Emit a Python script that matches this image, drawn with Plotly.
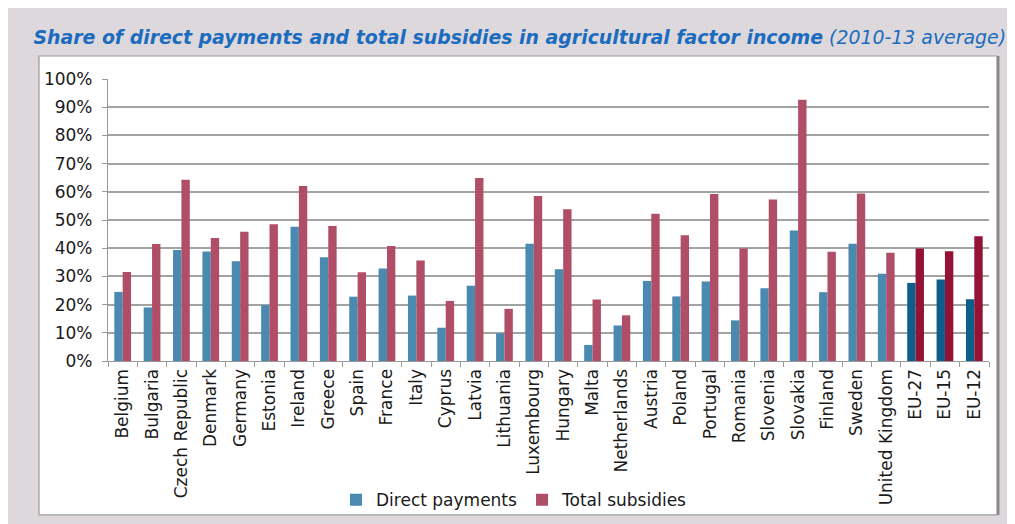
import plotly.graph_objects as go

countries = ["Belgium", "Bulgaria", "Czech Republic", "Denmark", "Germany", "Estonia",
             "Ireland", "Greece", "Spain", "France", "Italy", "Cyprus", "Latvia",
             "Lithuania", "Luxembourg", "Hungary", "Malta", "Netherlands", "Austria",
             "Poland", "Portugal", "Romania", "Slovenia", "Slovakia", "Finland",
             "Sweden", "United Kingdom", "EU-27", "EU-15", "EU-12"]

direct_payments = [24.5, 19.0, 39.4, 38.8, 35.4, 19.8, 47.6, 36.8, 22.8, 32.8, 23.2,
                   11.8, 26.7, 9.8, 41.6, 32.5, 5.7, 12.6, 28.4, 22.9, 28.2, 14.4,
                   25.8, 46.3, 24.4, 41.6, 30.9, 27.7, 28.9, 21.9]

total_subsidies = [31.6, 41.5, 64.3, 43.6, 45.8, 48.5, 62.1, 47.9, 31.5, 40.8, 35.6,
                   21.3, 64.9, 18.5, 58.5, 53.8, 21.8, 16.2, 52.2, 44.6, 59.2, 39.9,
                   57.3, 92.6, 38.7, 59.4, 38.4, 39.9, 38.9, 44.2]

y_ticks = [0, 10, 20, 30, 40, 50, 60, 70, 80, 90, 100]
y_tick_labels = ["0%", "10%", "20%", "30%", "40%", "50%", "60%", "70%", "80%", "90%", "100%"]

DP_LIGHT, DP_DARK = "#4a89b0", "#0e5e8c"
TS_LIGHT, TS_DARK = "#b04d67", "#931236"
dp_colors = [DP_DARK if c.startswith("EU-") else DP_LIGHT for c in countries]
ts_colors = [TS_DARK if c.startswith("EU-") else TS_LIGHT for c in countries]

font_family = "DejaVu Sans, Verdana, sans-serif"

fig = go.Figure()
fig.add_trace(go.Bar(x=countries, y=[v / 100 for v in direct_payments], name="Direct payments",
                     marker=dict(color=dp_colors, line=dict(width=0))))
fig.add_trace(go.Bar(x=countries, y=[v / 100 for v in total_subsidies], name="Total subsidies",
                     marker=dict(color=ts_colors, line=dict(width=0))))

# chart frame (white box) drawn behind plot
fig.add_shape(type="rect", xref="paper", yref="paper", x0=-0.0783, x1=1.009, y0=-0.546, y1=1.0816,
              fillcolor="white", line=dict(color="#9a9a9a", width=1.2), layer="below")
fig.add_shape(type="line", xref="paper", yref="paper", x0=1.0105, x1=1.0105, y0=-0.546, y1=1.0816,
              line=dict(color="#8a8a8a", width=2.5), layer="below")

fig.update_layout(
    width=1015, height=524,
    margin=dict(l=100, r=34, t=71, b=171),
    paper_bgcolor="#dcd8dc",
    plot_bgcolor="white",
    barmode="group",
    bargap=0.43,
    bargroupgap=0,
    font=dict(family=font_family, size=17, color="#1a1a1a"),
    title=dict(
        text="<b><i>Share of direct payments and total subsidies in agricultural factor income</i></b>"
             " <i>(2010-13 average)</i>",
        x=0.025, xanchor="left", y=0.944, yanchor="middle",
        font=dict(family="DejaVu Sans, sans-serif", size=18.9, color="#1b6cbf"),
    ),
    showlegend=True,
    legend=dict(orientation="h", x=0.4614, xanchor="center", y=-0.494, yanchor="middle",
                font=dict(size=17), bgcolor="rgba(0,0,0,0)", traceorder="normal",
                itemwidth=30),
    xaxis=dict(
        type="category", tickangle=-90, tickson="boundaries", ticks="outside", ticklen=5,
        tickcolor="#999999", showline=True, linecolor="#999999", linewidth=1.2,
        showgrid=False, tickfont=dict(size=17),
    ),
    yaxis=dict(
        range=[0, 1.0], tickvals=[t / 100 for t in y_ticks], ticktext=y_tick_labels,
        ticks="outside", ticklen=5, tickcolor="#999999", showline=True, linecolor="#999999",
        linewidth=1.2, showgrid=True, gridcolor="#a3a3a3", gridwidth=1.5, zeroline=False,
        tickfont=dict(size=17), ticklabelstandoff=6,
    ),
)

fig.write_html("out.html")
